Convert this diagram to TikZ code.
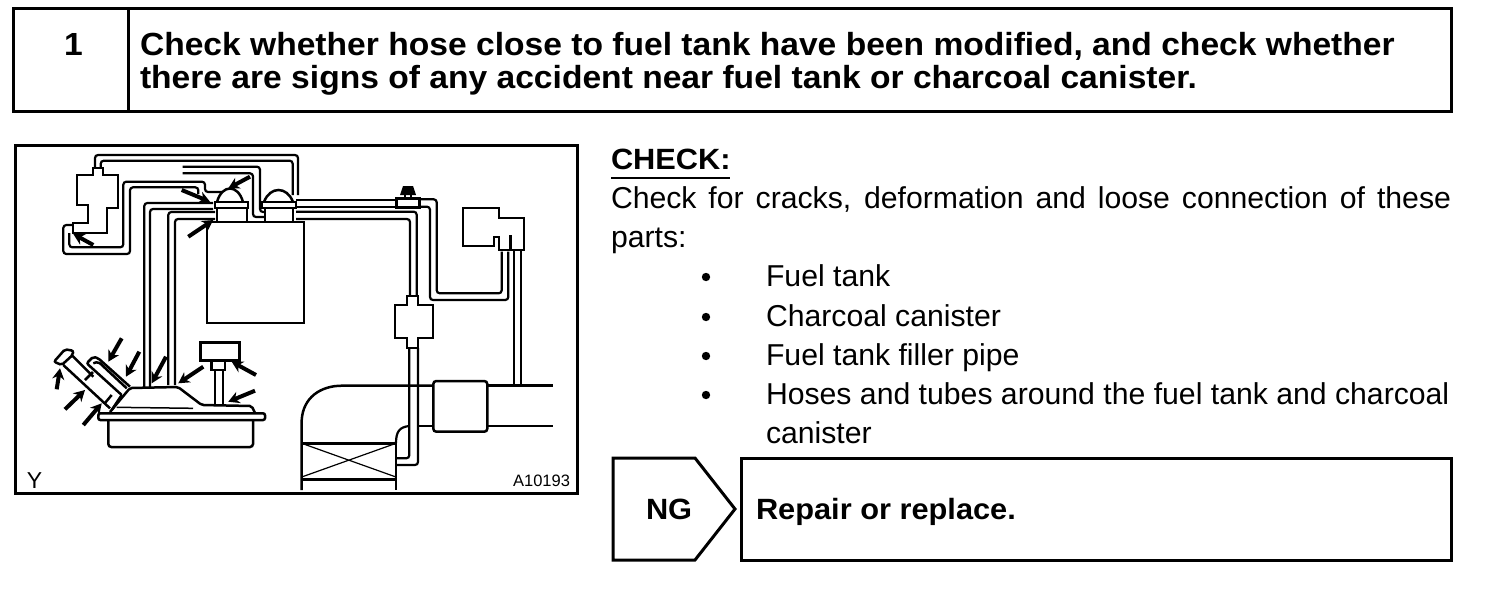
\documentclass[tikz,border=0pt]{standalone}
\usepackage{fontspec}
\usetikzlibrary{arrows.meta}
\setmainfont{Liberation Sans}
\newfontfamily\wideFamily[FakeStretch=1.05]{Liberation Sans}
\newcommand{\headFont}[0]{\wideFamily\fontsize{32}{34}\selectfont\bfseries}
\newcommand{\smallHeadFont}[0]{\wideFamily\fontsize{29.3}{32}\selectfont\bfseries}
\newcommand{\bodyFont}[0]{\fontsize{30.2}{39}\selectfont}
\begin{document}
\begin{tikzpicture}[x=1pt, y=-1pt]
  \tikzset{every node/.style={inner sep=0pt, outer sep=0pt},
           frame/.style={draw, line width=3pt},
           heading/.style={anchor=base west, font=\headFont},
           smallhead/.style={anchor=base west, font=\smallHeadFont},
           bodytext/.style={anchor=base west, font=\bodyFont},
           tube/.style={line width=2.2pt, rounded corners=3pt},
           part/.style={line width=2.5pt},
           pointer/.style={line width=4pt, -{Stealth[length=11pt, width=12pt]}}}
  \useasboundingbox (0,0) rectangle (1504,606);
  % title bar
  \node[frame, minimum width=115pt, minimum height=103pt, anchor=north west] (stepNum) at (13,8) {};
  \node[frame, minimum width=1323pt, minimum height=103pt, anchor=north west] (stepText) at (128,8) {};
  \node[heading] (stepDigit) at (64,55) {1};
  \node[heading] (titleOne) at (140,55) {Check whether hose close to fuel tank have been modified, and check whether};
  \node[heading] (titleTwo) at (140,88) {there are signs of any accident near fuel tank or charcoal canister.};
  % check text
  \node[smallhead] (checkHead) at (611,169) {CHECK:};
  \draw[line width=2pt] (611,178) -- (730,178);
  \node[bodytext, text width=840pt, align=justify] (checkOne) at (611,208) {Check for cracks, deformation and loose connection of these parts:};
  \foreach \name/\y/\item in {partA/286/Fuel tank, partB/326/Charcoal canister, partC/365/Fuel tank filler pipe, partD/404/Hoses and tubes around the fuel tank and charcoal}
    {\node[bodytext] (\name) at (766,\y) {\item};
     \fill (706,\y-9) circle (4.2pt);}
  \node[bodytext] (partE) at (766,443) {canister};
  % result boxes
  \node[frame, minimum width=710pt, minimum height=102pt, anchor=north west] (repairBox) at (741,458) {};
  \draw[frame] (613,458) -- (695,458) -- (735,509) -- (695,560) -- (613,560) -- cycle;
  \node[smallhead] (ngLabel) at (646,519) {NG};
  \node[smallhead] (repairLabel) at (756,519) {Repair or replace.};
  % illustration
  \node[frame, minimum width=562pt, minimum height=348pt, anchor=north west] (figFrame) at (15,145) {};
  \node[anchor=base west, font=\fontsize{23}{24}\selectfont] (figY) at (27,488) {Y};
  \node[anchor=base east, font=\fontsize{16.5}{18}\selectfont] (figCode) at (570,486) {A10193};
  % valve on the left
  \draw[tube, rounded corners=0pt] (76.7,175) -- (93.3,175) -- (93.3,168) -- (102.7,168) -- (102.7,175) -- (118.3,175) -- (118.3,208) -- (106.7,208) -- (106.7,233) -- (73.3,233) -- (73.3,223) -- (88.3,223) -- (88.3,205) -- (76.7,205) -- cycle;
  \draw[tube] (95,168) -- (95,155) -- (298,155) -- (298,195);
  \draw[tube] (100.7,168) -- (100.7,160.7) -- (292.7,160.7) -- (292.7,195);
  \draw[tube] (69.3,233) -- (69.3,247.3) -- (123.3,247.3) -- (123.3,181.7) -- (205,181.7) -- (205,192) -- (222,192);
  \draw[tube] (73,225) -- (63.3,225) -- (63.3,254) -- (130,254) -- (130,187.3) -- (198.3,187.3) -- (198.3,194);
  \draw[tube] (144.3,387) -- (144.3,203) -- (213,203);
  \draw[tube] (150,387) -- (150,209) -- (213,209);
  \draw[tube] (168.3,385) -- (168.3,212) -- (215,212);
  \draw[tube] (175,385) -- (175,219) -- (215,219);
  \draw[tube] (182.7,166.7) -- (260,166.7) -- (260,212) -- (265,212);
  \draw[tube] (182.7,173.3) -- (253,173.3) -- (253,217) -- (265,217);
  % tank and canisters
  \draw[part] (207,222) rectangle (304,323);
  \draw[part] (217,202) .. controls (222,184) and (238,184) .. (243,202);
  \draw[part] (215,202) rectangle (248,208);
  \draw[part] (217,208) -- (217,222) (247,208) -- (247,222);
  \draw[part] (264,202) .. controls (270,186) and (287,186) .. (293,202);
  \draw[part] (262,202) rectangle (296,208);
  \draw[part] (265,208) -- (265,222) (293,208) -- (293,222);
  % tubes to the right
  \draw[tube] (296,200) -- (396.7,200);
  \draw[tube] (296,206.7) -- (396.7,206.7);
  \draw[tube] (296,211.7) -- (416.7,211.7) -- (416.7,296);
  \draw[tube] (296,219) -- (410,219) -- (410,296);
  \draw[part] (396.7,198.3) rectangle (419.3,207.7);
  \fill (400,195) -- (403,186) -- (413,186) -- (416,195) -- cycle;
  \draw[part] (405,195) -- (405,198) (411,195) -- (411,198);
  \draw[tube] (419.3,199.3) -- (436.7,199.3) -- (436.7,293.3) -- (501.7,293.3) -- (501.7,251.7);
  \draw[tube] (420,206.7) -- (430,206.7) -- (430,300) -- (508.3,300) -- (508.3,251.7);
  \draw[tube, rounded corners=0pt] (462.7,207.7) -- (499.3,207.7) -- (499.3,217.7) -- (524.3,217.7) -- (524.3,250) -- (499.3,250) -- (499.3,237) -- (494,237) -- (494,246) -- (462.7,246) -- cycle;
  \draw[line width=3pt] (510.7,235) -- (510.7,250);
  \draw[tube] (514,250) -- (514,385);
  \draw[tube] (520.7,250) -- (520.7,385);
  % filter and lower tube
  \draw[tube, rounded corners=0pt, fill=white] (395,305) -- (406.7,305) -- (406.7,296) -- (418.3,296) -- (418.3,305) -- (432.7,305) -- (432.7,338) -- (418.3,338) -- (418.3,348) -- (406.7,348) -- (406.7,338) -- (395,338) -- cycle;
  \draw[tube] (409.3,348) -- (409.3,458.3) -- (396.7,458.3);
  \draw[tube] (418,348) -- (418,465) -- (396.7,465);
  \draw[tube] (409.3,426) .. controls (400,427) and (396,431) .. (396,443);
  % duct and air cleaner
  \draw[part] (301.7,490) -- (301.7,420) .. controls (303,398) and (320,385.7) .. (342,385.7) -- (433,385.7);
  \draw[part, rounded corners=3pt] (433.3,381) rectangle (487.3,431.7);
  \draw[part] (487.3,385.7) -- (553.3,385.7) (487.3,426) -- (553.3,426) (418,426) -- (433,426);
  \draw[part] (301.7,443.3) -- (396,443.3) (301.7,479.3) -- (396,479.3) (396,443.3) -- (396,490);
  \draw[line width=1.2pt] (301.7,443.3) -- (396,477) (301.7,477) -- (396,443.3);
  % pump unit
  \draw[part, rounded corners=2pt] (98.3,413.3) rectangle (265,420);
  \draw[part, rounded corners=3pt] (108.3,420) -- (108.3,447) -- (253,447) -- (253,420);
  \draw[part, rounded corners=2pt] (110,412) -- (130,388) -- (178,387) -- (201.7,405) -- (251.7,406) -- (255,413);
  \draw[line width=1.5pt] (116.7,407.3) -- (193,408.3);
  \draw[part] (200.7,342.7) rectangle (239.3,360.7);
  \draw[part] (211.7,360.7) -- (211.7,370) -- (225,370) -- (225,360.7);
  \draw[tube] (215,370) -- (215,404);
  \draw[tube] (223.3,370) -- (223.3,404);
  % filler neck
  \draw[part, rounded corners=2pt] (54,361.7) -- (65,349.3) -- (73.3,350.7) -- (72.7,355) -- (61.7,365) -- cycle;
  \draw[part] (63.3,365) -- (110,408.3) (71.7,355) -- (93.3,376.7);
  \draw[part, rounded corners=2pt] (121.7,395) -- (86.7,363.3) -- (93.3,356.7) -- (98.3,358.3) -- (130,386.7);
  \draw[part, rounded corners=2pt] (93.3,363.3) -- (98.3,361.7) -- (126.7,388.3);
  \draw[part] (85,380) -- (93,372) (121.7,395) -- (111.7,410) (111.7,395) -- (105,403);
  % pointers
  \foreach \fromX/\fromY/\toX/\toY in {121.7/338.3/108.3/361.7, 139.3/351.7/126/376.7, 166/356.7/151.7/383.3, 203.3/366.7/178.3/383.3, 256/375/231.7/361.7, 255/390.7/228.3/401.7, 56.7/389.3/60/368.3, 65/409.3/85/390, 83.3/425/101.7/403.3, 93.3/245/73.3/234, 181.7/190/210/201.7, 250/176.7/228.3/188.3, 188.3/236.7/213.3/220}
    \draw[pointer] (\fromX,\fromY) -- (\toX,\toY);
\end{tikzpicture}
\end{document}
